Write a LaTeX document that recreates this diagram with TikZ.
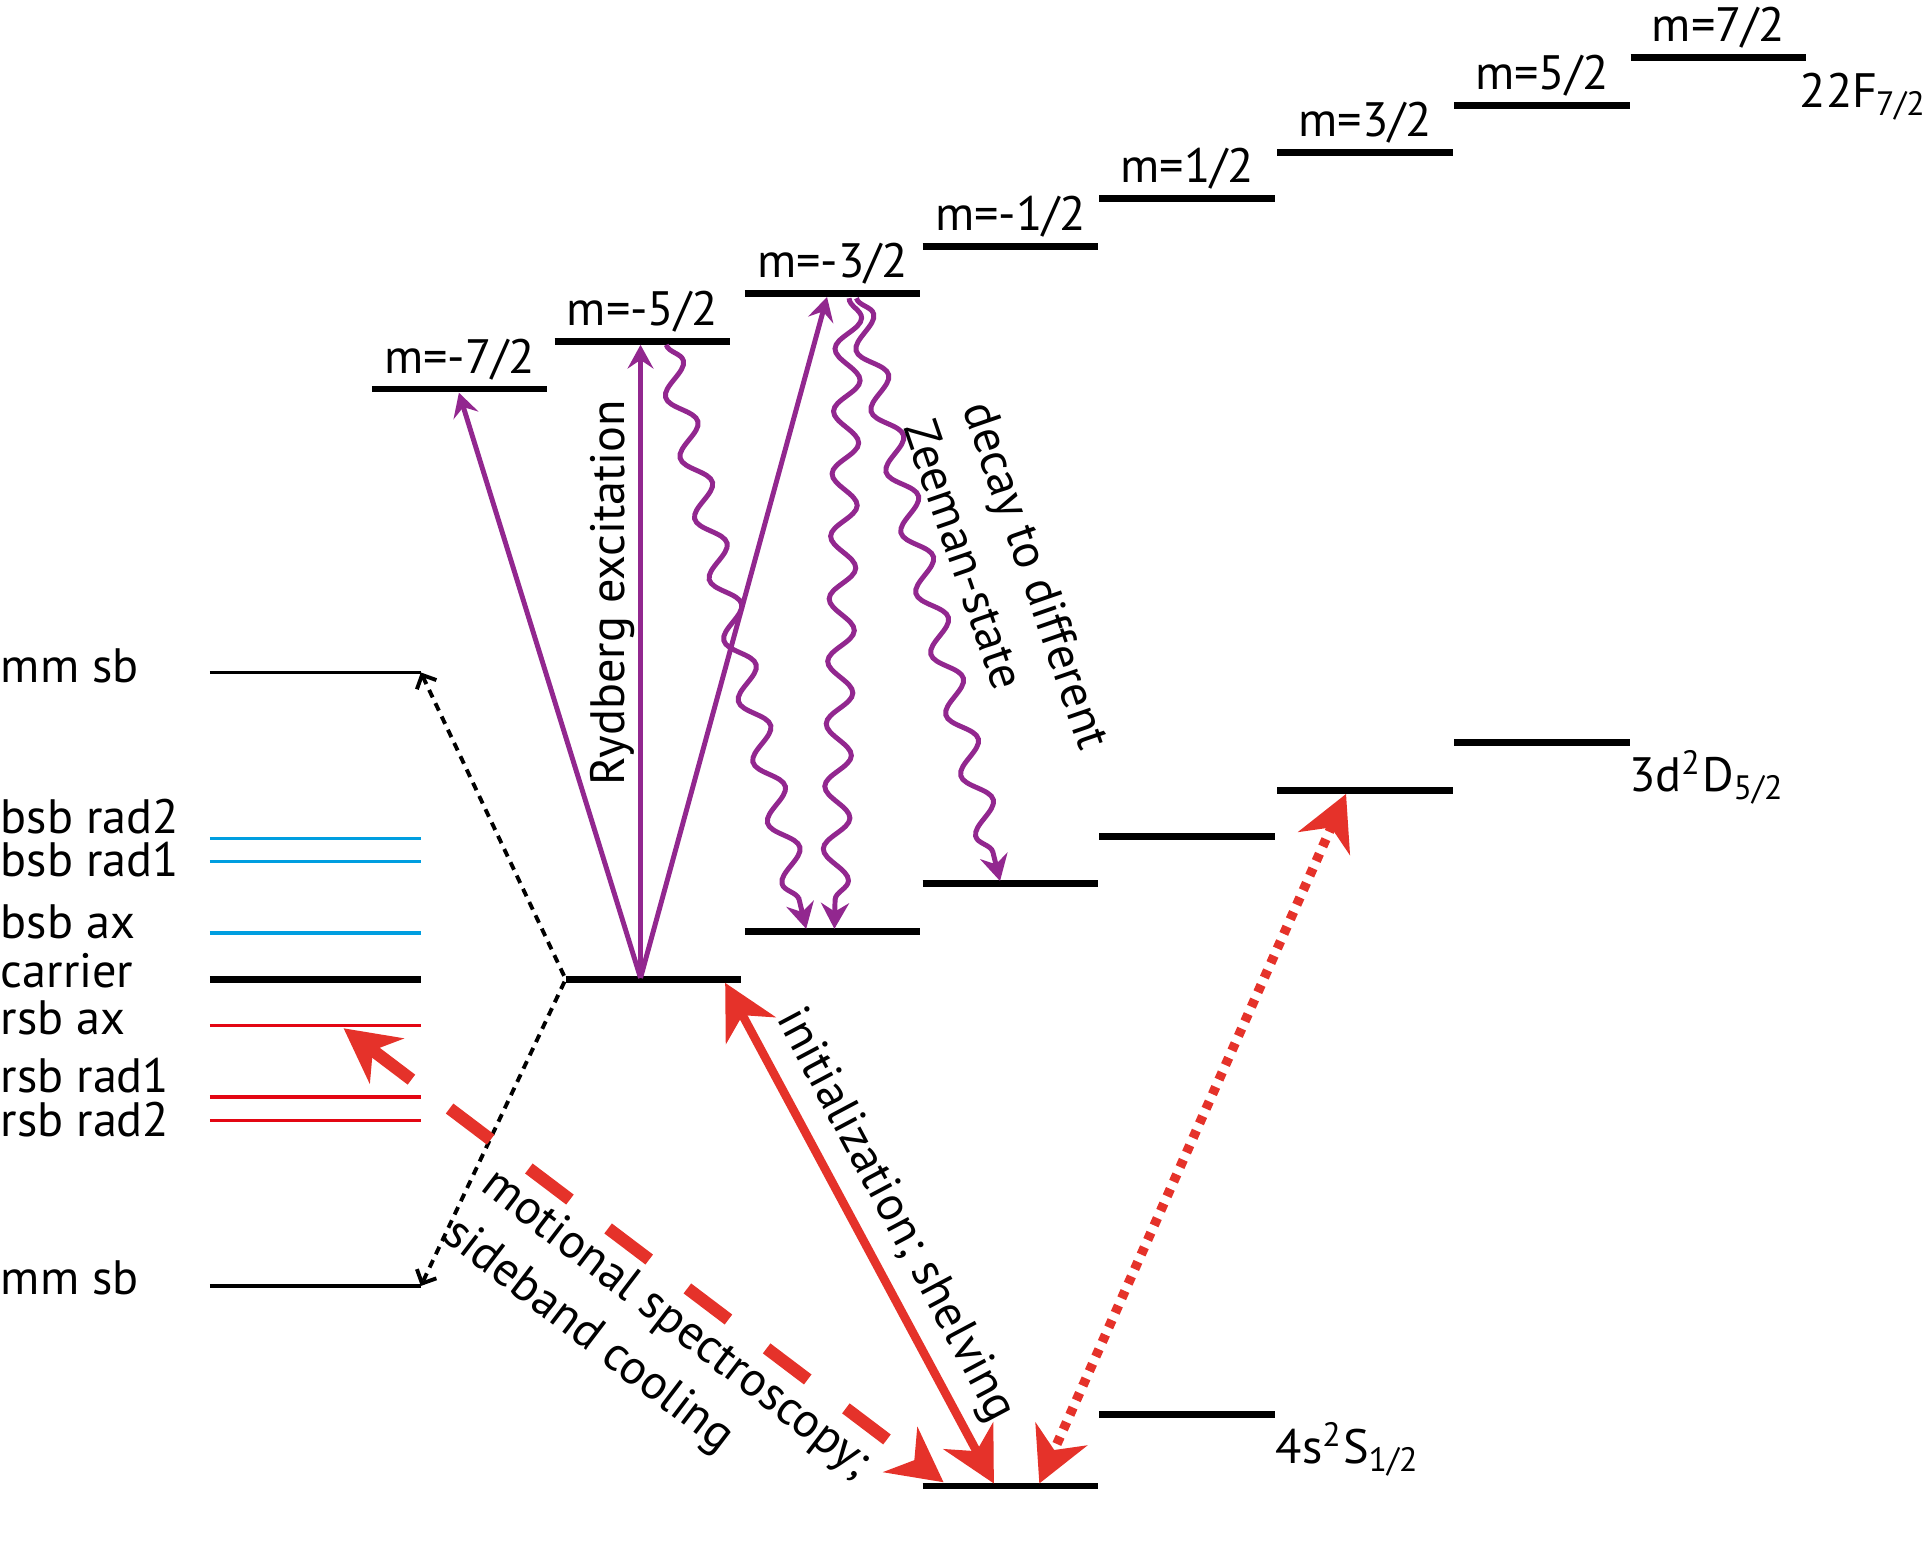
\documentclass[tikz,border=0pt]{standalone}
\usepackage{fontspec}
\setmainfont{PT Sans}
\usetikzlibrary{arrows.meta,decorations.pathmorphing}
\definecolor{lila}{RGB}{146,39,143}
\definecolor{laser}{RGB}{229,50,42}
\definecolor{blausb}{RGB}{0,158,224}
\definecolor{rotsb}{RGB}{227,6,19}
\tikzset{
  lvl/.style={line width=1.6pt},
  txt/.style={font=\fontsize{11.2}{14.5}\selectfont,inner sep=0pt},
  rydarr/.style={lila,line width=1.15pt,-{Stealth[length=5.5pt,width=6pt,inset=2pt]}},
  decayarr/.style={lila,line width=1.15pt,-{Stealth[length=6pt,width=6.5pt,inset=2pt]},decorate,
    decoration={snake,amplitude=3pt,segment length=14.5pt,post length=6pt}},
  bigtip/.style={{Stealth[length=12.5pt,width=13pt,inset=4pt]}-{Stealth[length=12.5pt,width=13pt,inset=4pt]}},
}
\begin{document}
\begin{tikzpicture}[x=0.1mm,y=-0.1mm]
\useasboundingbox (0,0) rectangle (1568,1262);

\foreach \x/\y/\mm [count=\i from 0] in {303/317/-7,452/278/-5,607/239/-3,752/201/-1,896/162/1,1041/124/3,1185/86/5,1329/47/7}{
  \coordinate (F\i) at (\x,\y);
  \draw[lvl] (F\i) -- ++(143,0);
  \path (F\i) ++(71.5,-13) node[txt,anchor=base] (mF\i) {m=\mm/2};
}
\foreach \x/\y [count=\i from 0] in {461/798,607/759,752/720,896/682,1041/644,1185/605}{
  \coordinate (D\i) at (\x,\y);
  \draw[lvl] (D\i) -- ++(143,0);
}
\coordinate (S0) at (752,1211);
\coordinate (S1) at (896,1153);
\draw[lvl] (S0) -- ++(143,0);
\draw[lvl] (S1) -- ++(143,0);
\node[txt,anchor=base west] (Flab) at (1466,88) {22F\kern-0.3pt\textsubscript{7/2}};
\node[txt,anchor=base west] (Dlab) at (1327,645) {3d\textsuperscript{2}D\textsubscript{5/2}};
\node[txt,anchor=base west] (Slab) at (1039,1193) {4s\textsuperscript{2}S\textsubscript{1/2}};

\foreach \y/\col/\lw/\bl/\lab [count=\k] in {548/black/0.8/556/mm sb,683/blausb/0.7/679/bsb rad2,702/blausb/0.7/714/bsb rad1,760/blausb/0.9/765/bsb ax,798/black/1.6/805/carrier,836/rotsb/0.75/843/rsb ax,894/rotsb/0.75/890/rsb rad1,913/rotsb/0.75/926/rsb rad2,1048/black/0.8/1055/mm sb}{
  \coordinate (sb\k) at (343,\y);
  \draw[\col,line width=\lw pt] (171,\y) -- (sb\k);
  \node[txt,anchor=base west] (sblab\k) at (0,\bl) {\lab};
}
\draw[line width=0.9pt,dash pattern=on 1.9pt off 1.5pt,{Straight Barb[length=2.5pt]}-{Straight Barb[length=2.5pt]}] (sb1) -- (D0) -- (sb9);

\coordinate (ryd) at (522,797);
\coordinate (t0) at (374,320);
\coordinate (t1) at (522,281);
\coordinate (t2) at (674,242);
\draw[rydarr] (ryd) -- (t0);
\draw[rydarr] (ryd) -- (t1);
\draw[rydarr] (ryd) -- (t2);
\node[txt,rotate=90] (rydlab) at (499,483) {Rydberg excitation};

\coordinate (w1a) at (543,281);
\coordinate (w1b) at (657,757);
\coordinate (w2a) at (692,243);
\coordinate (w2b) at (680,757);
\coordinate (w3a) at (698,243);
\coordinate (w3b) at (815,718);
\draw[decayarr] (w1a) -- (w1b);
\draw[decayarr] (w2a) -- (w2b);
\draw[decayarr] (w3a) -- (w3b);
\node[txt,rotate=-71] (zeelab) at (786,452) {Zeeman-state};
\node[txt,rotate=-71] (declab) at (842,470) {decay to different};

\coordinate (initA) at (591,801);
\coordinate (initB) at (810,1209);
\coordinate (coolA) at (280,838);
\coordinate (coolB) at (769,1208);
\coordinate (shelA) at (847,1209);
\coordinate (shelB) at (1097,647);
\draw[laser,line width=2pt,bigtip] (initA) -- (initB);
\draw[laser,line width=2.9pt,bigtip,dash pattern=on 4.2mm off 3.9mm] (coolA) -- (coolB);
\draw[laser,line width=2.2pt,bigtip,dash pattern=on 0.65mm off 0.65mm] (shelB) -- (shelA);
\node[txt,rotate=-62] (initlab) at (729,991) {initialization; shelving};
\node[txt,rotate=-37.4,align=left] (coollab) at (535,1100) {motional spectroscopy;\\sideband cooling};
\end{tikzpicture}
\end{document}
